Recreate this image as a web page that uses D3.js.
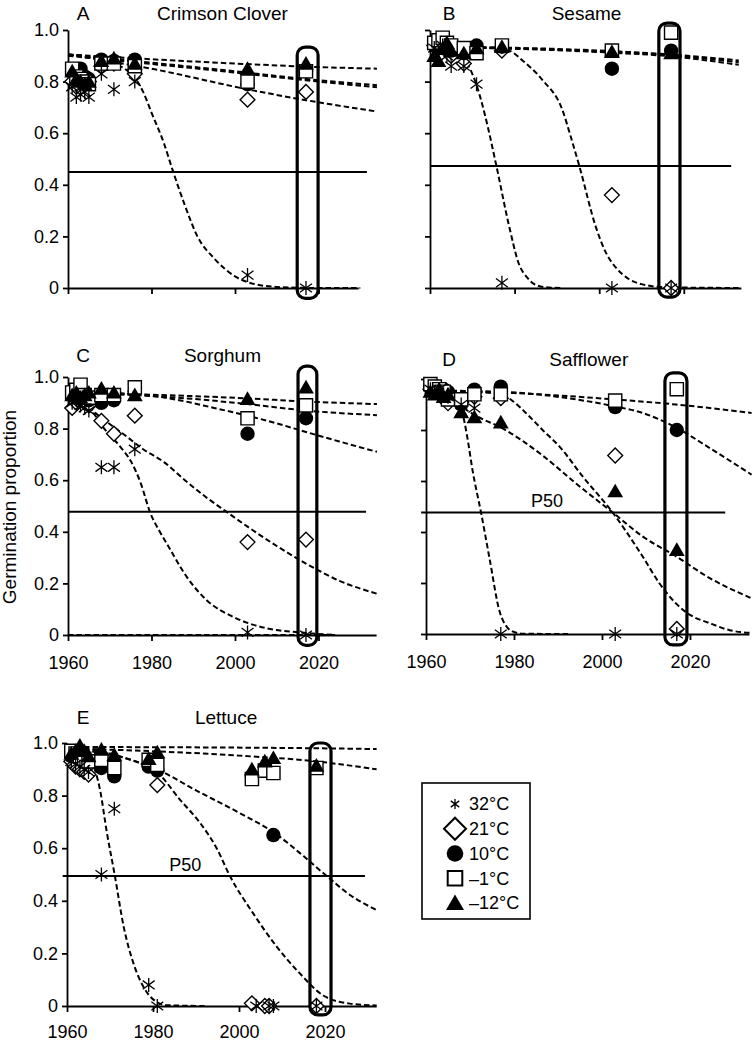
<!DOCTYPE html>
<html><head><meta charset="utf-8">
<script src="https://cdn.jsdelivr.net/npm/d3@7"></script>
<style>
body{margin:0;background:#fff}
svg{display:block}
text{font-family:"Liberation Sans",Arial,Helvetica,sans-serif;fill:#000}
</style>
</head><body>
<svg id="chart" width="752" height="1042"></svg>
<script>
// ---------- tick labels, categories ----------
const temps = ["32°C", "21°C", "10°C", "–1°C", "–12°C"];
const panelLetters = ["A", "B", "C", "D", "E"];
const cropNames = ["Crimson Clover", "Sesame", "Sorghum", "Safflower", "Lettuce"];
const xTicks = [1960, 1980, 2000, 2020];
const yTicks = [0, 0.2, 0.4, 0.6, 0.8, 1.0];
const yTickLabels = ["0", "0.2", "0.4", "0.6", "0.8", "1.0"];
const p50Values = [0.45, 0.473, 0.478, 0.476, 0.494];
const yAxisTitle = "Germination proportion";

// ---------- observed germination (per panel: years and one array per temperature) ----------
const cloverYears = [1961, 1962, 1963, 1964, 1965, 1968, 1971, 1976, 2003, 2017];
const clover32  = [0.78, 0.74, 0.75, 0.76, 0.74, 0.83, 0.77, 0.80, 0.05, 0.00];
const clover21  = [0.80, 0.78, 0.80, 0.79, 0.80, 0.86, 0.87, 0.83, 0.73, 0.76];
const clover10  = [0.84, 0.83, 0.85, 0.82, 0.81, 0.885, 0.88, 0.885, 0.79, 0.84];
const cloverM1  = [0.85, 0.82, 0.81, 0.80, 0.79, 0.87, 0.87, 0.86, 0.80, 0.84];
const cloverM12 = [0.84, 0.81, 0.80, 0.79, 0.80, 0.88, 0.89, 0.87, 0.85, 0.87];

const sesameYears = [1961, 1962, 1963, 1964, 1965, 1968, 1971, 1977, 2003, 2017];
const sesame32  = [0.93, 0.92, 0.94, 0.90, 0.86, 0.86, 0.79, 0.02, 0.00, 0.00];
const sesame21  = [0.94, 0.93, 0.95, 0.93, 0.90, 0.87, 0.93, 0.92, 0.36, 0.00];
const sesame10  = [0.94, 0.95, 0.93, 0.94, 0.92, 0.91, 0.94, 0.935, 0.85, 0.92];
const sesameM1  = [0.95, 0.96, 0.97, 0.95, 0.94, 0.93, 0.91, 0.94, 0.92, 0.99];
const sesameM12 = [0.90, 0.88, 0.93, 0.95, 0.92, 0.91, 0.93, 0.935, 0.915, 0.91];

const sorghumYears = [1961, 1962, 1963, 1964, 1965, 1968, 1971, 1976, 2003, 2017];
const sorghum32  = [0.90, 0.91, 0.89, 0.88, 0.87, 0.65, 0.65, 0.72, 0.01, 0.00];
const sorghum21  = [0.88, 0.90, 0.91, 0.90, 0.89, 0.83, 0.78, 0.85, 0.36, 0.37];
const sorghum10  = [0.93, 0.92, 0.94, 0.92, 0.91, 0.90, 0.91, 0.945, 0.78, 0.84];
const sorghumM1  = [0.94, 0.95, 0.97, 0.93, 0.92, 0.93, 0.93, 0.96, 0.84, 0.89];
const sorghumM12 = [0.93, 0.94, 0.92, 0.93, 0.94, 0.955, 0.94, 0.93, 0.915, 0.96];

const safflowerYears = [1961, 1962, 1963, 1964, 1965, 1968, 1971, 1977, 2003, 2017];
const safflower32  = [0.96, 0.95, 0.96, 0.94, 0.93, 0.90, 0.886, 0.00, 0.00, 0.00];
const safflower21  = [0.96, 0.95, 0.94, 0.93, 0.905, 0.91, 0.93, 0.925, 0.70, 0.02];
const safflower10  = [0.97, 0.96, 0.95, 0.96, 0.95, 0.90, 0.958, 0.97, 0.89, 0.80];
const safflowerM1  = [0.98, 0.97, 0.96, 0.95, 0.92, 0.92, 0.94, 0.94, 0.915, 0.96];
const safflowerM12 = [0.95, 0.94, 0.96, 0.93, 0.94, 0.87, 0.85, 0.83, 0.56, 0.33];

const lettuceYears = [1961, 1962, 1963, 1964, 1965, 1968, 1971, 1979, 1981, 2003, 2004, 2006, 2007, 2008, 2018];
const lettuce32  = [0.93, 0.92, 0.91, 0.90, 0.89, 0.50, 0.75, 0.08, 0.00, null, 0.00, null, 0.00, 0.00, 0.00];
const lettuce21  = [0.93, 0.91, 0.90, 0.89, 0.88, null, null, 0.92, 0.84, 0.01, null, 0.00, 0.00, null, 0.00];
const lettuce10  = [0.95, 0.96, 0.94, 0.95, 0.93, 0.905, 0.873, 0.91, 0.895, 0.873, null, null, null, 0.65, null];
const lettuceM1  = [0.97, 0.96, 0.95, 0.94, 0.93, 0.936, 0.905, 0.936, 0.917, 0.863, null, 0.895, null, 0.886, 0.905];
const lettuceM12 = [0.96, 0.97, 0.99, 0.97, 0.95, 0.975, 0.955, 0.94, 0.965, 0.90, null, 0.93, null, 0.943, 0.914];

// ---------- fitted viability curves as [year, proportion] ----------
const cloverFit32  = [[1960,0.905],[1970,0.875],[1974,0.845],[1976,0.815],[1978,0.76],[1980,0.68],[1983,0.56],[1985,0.46],[1988,0.32],[1991,0.20],[1995,0.115],[2000,0.045],[2005,0.014],[2010,0.004],[2015,0.001],[2020,0],[2030,0]];
const cloverFit21  = [[1960,0.905],[1980,0.85],[2003,0.77],[2017,0.728],[2034,0.684]];
const cloverFit10  = [[1960,0.905],[2000,0.84],[2017,0.81],[2034,0.786]];
const cloverFitM1  = [[1960,0.90],[2000,0.835],[2017,0.805],[2034,0.778]];
const cloverFitM12 = [[1960,0.905],[2000,0.87],[2017,0.858],[2034,0.85]];

const sesameFit32  = [[1960,0.935],[1965,0.925],[1968,0.89],[1970,0.83],[1971,0.787],[1973,0.67],[1975.7,0.473],[1978.7,0.24],[1981,0.094],[1983,0.04],[1985,0.012],[1988,0.002],[1991,0]];
const sesameFit21  = [[1960,0.935],[1975,0.93],[1978.7,0.92],[1982,0.88],[1986.6,0.806],[1991.3,0.69],[1993.3,0.585],[1995.3,0.473],[1999.2,0.237],[2001.5,0.14],[2003.9,0.08],[2007,0.035],[2010,0.015],[2015.7,0.003],[2033,0]];
const sesameFit10  = [[1960,0.935],[2003,0.912],[2017,0.898],[2033,0.865]];
const sesameFitM1  = [[1960,0.935],[2003,0.915],[2017,0.902],[2033,0.875]];
const sesameFitM12 = [[1960,0.937],[2003,0.918],[2017,0.905],[2033,0.882]];

const sorghumFit32  = [[1960,0.94],[1963,0.925],[1965.7,0.87],[1968.4,0.806],[1972.5,0.73],[1975,0.675],[1977.5,0.585],[1979.6,0.478],[1982,0.40],[1984,0.345],[1988.4,0.226],[1993.2,0.135],[1999.6,0.07],[2007.6,0.026],[2015.6,0.01],[2024,0]];
const sorghumFit0   = [[1960,0],[2024,0]];
const sorghumFit21  = [[1960,0.935],[1964,0.91],[1966,0.87],[1969,0.83],[1974,0.77],[1978,0.72],[1983,0.67],[1988,0.60],[1993,0.535],[1998,0.477],[2003,0.42],[2010,0.345],[2017,0.277],[2025,0.21],[2034,0.16]];
const sorghumFit10  = [[1960,0.94],[1975,0.935],[1985,0.915],[1995,0.88],[2003,0.85],[2010,0.82],[2017,0.787],[2025,0.75],[2034,0.71]];
const sorghumFitM1  = [[1960,0.94],[1990,0.915],[2003,0.895],[2017,0.87],[2034,0.852]];
const sorghumFitM12 = [[1960,0.94],[2003,0.917],[2017,0.905],[2034,0.895]];

const safflowerFit32  = [[1960,0.955],[1964,0.945],[1966,0.925],[1968.2,0.87],[1969.4,0.77],[1970.6,0.64],[1972.5,0.477],[1974.4,0.30],[1976.7,0.09],[1978.5,0.025],[1980,0.008],[1982,0.001],[1992.5,0]];
const safflowerFit21  = [[1960,0.955],[1970,0.95],[1977,0.94],[1980,0.91],[1982.7,0.867],[1986.5,0.80],[1990.3,0.736],[1995.6,0.618],[2002.4,0.477],[2009.2,0.305],[2013,0.20],[2016.8,0.12],[2020,0.075],[2024.4,0.043],[2029,0.015],[2034,0.004]];
const safflowerFit10  = [[1960,0.955],[1977,0.95],[1994.1,0.92],[2002.8,0.893],[2009.2,0.867],[2016.8,0.81],[2024.4,0.73],[2034,0.625]];
const safflowerFitM1  = [[1960,0.955],[1980,0.945],[2002.8,0.92],[2016.8,0.90],[2034,0.867]];
const safflowerFitM12 = [[1960,0.96],[1965,0.93],[1968.2,0.89],[1972,0.85],[1977,0.81],[1986.5,0.70],[1994.1,0.59],[2002.4,0.477],[2009.2,0.383],[2016.8,0.305],[2024.4,0.22],[2034,0.14]];

const lettuceFit32  = [[1960,0.97],[1963,0.96],[1965.4,0.936],[1967.7,0.82],[1969.3,0.657],[1971.1,0.498],[1973.2,0.30],[1975.5,0.16],[1977.8,0.072],[1980.9,0.015],[1983.2,0.003],[1992,0]];
const lettuceFit21  = [[1960,0.98],[1970,0.955],[1976,0.93],[1980.9,0.89],[1986.3,0.784],[1991,0.695],[1994.8,0.60],[1997.9,0.494],[2003.3,0.352],[2008.8,0.225],[2014.2,0.123],[2019.6,0.04],[2025.8,0.009],[2032,0.002]];
const lettuceFit10  = [[1960,0.98],[1970,0.96],[1975,0.935],[1980.9,0.90],[1990,0.82],[2000,0.735],[2008.6,0.654],[2015,0.57],[2020.4,0.494],[2026,0.42],[2032,0.365]];
const lettuceFitM1  = [[1960,0.98],[2000,0.952],[2018,0.93],[2032,0.90]];
const lettuceFitM12 = [[1960,0.985],[2018,0.98],[2032,0.977]];

// ---------- assembly ----------
const panels = [
  {years: cloverYears, series: [clover32, clover21, clover10, cloverM1, cloverM12],
   fits: [cloverFit32, cloverFit21, cloverFit10, cloverFitM1, cloverFitM12]},
  {years: sesameYears, series: [sesame32, sesame21, sesame10, sesameM1, sesameM12],
   fits: [sesameFit32, sesameFit21, sesameFit10, sesameFitM1, sesameFitM12]},
  {years: sorghumYears, series: [sorghum32, sorghum21, sorghum10, sorghumM1, sorghumM12],
   fits: [sorghumFit32, sorghumFit0, sorghumFit21, sorghumFit10, sorghumFitM1, sorghumFitM12]},
  {years: safflowerYears, series: [safflower32, safflower21, safflower10, safflowerM1, safflowerM12],
   fits: [safflowerFit32, safflowerFit21, safflowerFit10, safflowerFitM1, safflowerFitM12]},
  {years: lettuceYears, series: [lettuce32, lettuce21, lettuce10, lettuceM1, lettuceM12],
   fits: [lettuceFit32, lettuceFit21, lettuceFit10, lettuceFitM1, lettuceFitM12]}
];

// layout (positions only)
const layouts = [
  {x0:68,  ppy:4.175, yB:288,  yT:30,  axisEnd:2029.5, xLab:false, yLab:true,  letterX:83,  titleBase:20,  p50X:[1960,2031.6], box:[2014.9,2019.9,0.934,-0.04], p50Label:false, pad:15},
  {x0:430, ppy:4.23,  yB:288,  yT:30,  axisEnd:2033.5, xLab:false, yLab:false, letterX:449, titleBase:20,  p50X:[1960,2031.2], box:[2014.1,2019.1,1.027,-0.035], p50Label:false, pad:15},
  {x0:68,  ppy:4.175, yB:635,  yT:377, axisEnd:2033.8, xLab:true,  yLab:true,  letterX:83,  titleBase:362, p50X:[1960,2031.4], box:[2015.1,2019.6,1.042,-0.04], p50Label:false, pad:15},
  {x0:426, ppy:4.4,   yB:634,  yT:379, axisEnd:2033.4, xLab:true,  yLab:false, letterX:449, titleBase:366, p50X:[1958.9,2028], box:[2014.3,2019.3,1.024,-0.043], p50Label:true, pad:15},
  {x0:67,  ppy:4.3,   yB:1006, yT:743, axisEnd:2031.9, xLab:true,  yLab:true,  letterX:83,  titleBase:724, p50X:[1959,2029.3], box:[2016.5,2021.4,1.0,-0.034], p50Label:true, pad:13}
];

const svg = d3.select("#chart");
const FONT = 18;

function markerPath(type, s) {
  switch (type) {
    case 0: { const a = s * 0.85, b = s * 0.62;
      return `M0,${-s}V${s}M${-a},${-b}L${a},${b}M${-a},${b}L${a},${-b}`; }
    case 1: return `M0,${-s}L${s},0L0,${s}L${-s},0Z`;
    case 2: return d3.symbol(d3.symbolCircle, Math.PI * s * s)();
    case 3: return `M${-s},${-s}H${s}V${s}H${-s}Z`;
    case 4: return `M0,${-s * 1.05}L${s * 1.1},${s * 0.85}L${-s * 1.1},${s * 0.85}Z`;
  }
}
const markerSize = [7, 7.4, 7.2, 6.6, 7.2];
const drawOrder = [1, 2, 3, 4, 0];   // stars drawn last so they stay visible
function styleMarker(sel, type) {
  if (type === 0) sel.attr("fill", "none").attr("stroke", "#000").attr("stroke-width", 1.3);
  else if (type === 1 || type === 3) sel.attr("fill", "#fff").attr("stroke", "#000").attr("stroke-width", 1.4);
  else sel.attr("fill", "#000").attr("stroke", "none");
}

panels.forEach((p, i) => {
  const L = layouts[i];
  const x = d3.scaleLinear().domain([1960, 2034]).range([L.x0, L.x0 + 74 * L.ppy]);
  const y = d3.scaleLinear().domain([0, 1]).range([L.yB, L.yT]);
  const g = svg.append("g");

  // axes
  const xa = x.copy().domain([1960, L.axisEnd]).range([x(1960), x(L.axisEnd)]);
  const xAxis = d3.axisBottom(xa).tickValues(xTicks).tickSize(6).tickSizeOuter(0).tickPadding(L.pad)
    .tickFormat(d => L.xLab ? String(d) : "");
  const gx = g.append("g").attr("transform", `translate(0,${L.yB})`).call(xAxis);
  const yAxis = d3.axisLeft(y).tickValues(yTicks).tickSize(5).tickSizeOuter(0).tickPadding(4)
    .tickFormat((d, k) => L.yLab ? yTickLabels[k] : "");
  const gy = g.append("g").attr("transform", `translate(${L.x0},0)`).call(yAxis);
  [gx, gy].forEach(a => {
    a.selectAll("path.domain").attr("stroke", "#000").attr("stroke-width", 1.8);
    a.selectAll(".tick line").attr("stroke", "#000").attr("stroke-width", 1.8);
    a.selectAll(".tick text").attr("font-size", FONT).attr("font-family", '"Liberation Sans",Arial,sans-serif').attr("fill", "#000");
  });

  // P50 line
  g.append("line")
    .attr("x1", x(L.p50X[0])).attr("x2", x(L.p50X[1]))
    .attr("y1", y(p50Values[i])).attr("y2", y(p50Values[i]))
    .attr("stroke", "#000").attr("stroke-width", 2);
  if (L.p50Label) {
    g.append("text").attr("x", x(1987.5)).attr("y", y(p50Values[i]) - 5.5)
      .attr("text-anchor", "middle").attr("font-size", FONT).text("P50");
  }

  // fitted curves
  const line = d3.line().x(d => x(d[0])).y(d => y(d[1])).curve(d3.curveMonotoneX);
  g.selectAll("path.fit").data(p.fits).join("path").attr("class", "fit")
    .attr("d", line).attr("fill", "none").attr("stroke", "#000")
    .attr("stroke-width", 2).attr("stroke-dasharray", "5.5,3");

  // observed points
  drawOrder.forEach(t => {
    const vals = p.series[t];
    const pts = p.years.map((yr, k) => [yr, vals[k]]).filter(d => d[1] !== null && d[1] !== undefined);
    const sel = g.selectAll(null).data(pts).join("path")
      .attr("transform", d => `translate(${x(d[0])},${y(d[1])})`)
      .attr("d", markerPath(t, markerSize[t]));
    styleMarker(sel, t);
  });

  // highlight box around the most recent test
  const b = L.box;
  g.append("rect")
    .attr("x", x(b[0])).attr("width", x(b[1]) - x(b[0]))
    .attr("y", y(b[2])).attr("height", y(b[3]) - y(b[2]))
    .attr("rx", 8).attr("ry", 8)
    .attr("fill", "none").attr("stroke", "#000").attr("stroke-width", 3.2);

  // titles
  g.append("text").attr("x", L.letterX).attr("y", L.titleBase).attr("text-anchor", "middle")
    .attr("font-size", 19).text(panelLetters[i]);
  g.append("text").attr("x", x(1997)).attr("y", L.titleBase).attr("text-anchor", "middle")
    .attr("font-size", 19).text(cropNames[i]);
});

// y-axis title
svg.append("text").attr("transform", "translate(15.5,507) rotate(-90)")
  .attr("text-anchor", "middle").attr("font-size", 19).text(yAxisTitle);

// legend
const lg = svg.append("g");
lg.append("rect").attr("x", 422).attr("y", 783).attr("width", 108).attr("height", 136)
  .attr("fill", "#fff").attr("stroke", "#000").attr("stroke-width", 1.6);
const legendY = d3.scalePoint().domain(temps).range([804, 903]);
const legendSize = [5, 11, 8.3, 7.3, 8.2];
temps.forEach((t, k) => {
  const m = lg.append("path").attr("transform", `translate(455,${legendY(t)})`)
    .attr("d", markerPath(k, legendSize[k]));
  styleMarker(m, k);
  if (k === 1 || k === 3) m.attr("stroke-width", 2);
  lg.append("text").attr("x", 469).attr("y", legendY(t)).attr("dy", "0.36em")
    .attr("font-size", FONT).text(t);
});
</script>
</body></html>
